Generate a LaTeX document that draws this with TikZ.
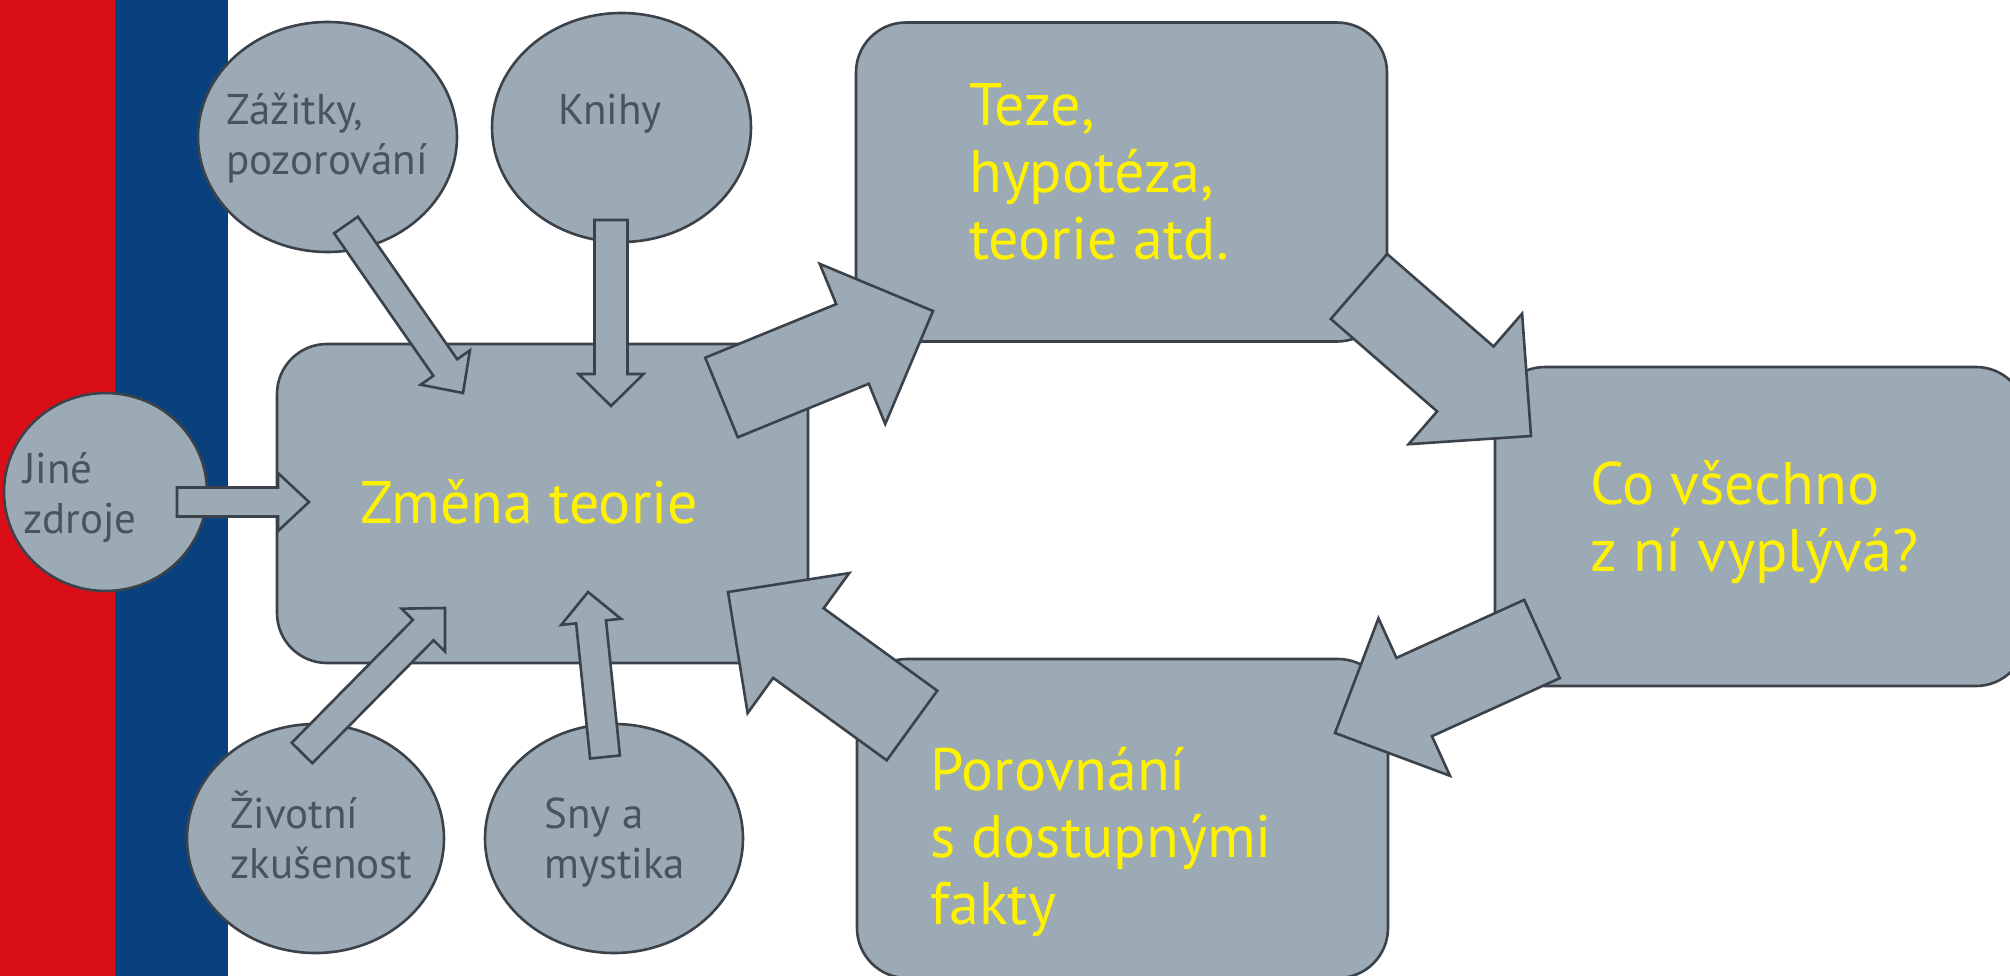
\documentclass[tikz,border=0pt]{standalone}
\usepackage{fontspec}
\setmainfont{PT Sans}
\usetikzlibrary{calc}
\usetikzlibrary{shapes.geometric}
\definecolor{flagred}{RGB}{218,14,22}
\definecolor{flagblue}{RGB}{9,64,126}
\definecolor{bubble}{RGB}{155,170,181}
\definecolor{rim}{RGB}{60,66,73}
\definecolor{ink}{RGB}{72,84,96}
% fat arrow: tail, tip, shaft, head width, head length
\newcommand{\blockarrow}[5]{%
\coordinate (hb) at ($(#2)!#5!(#1)$);
\draw[blockarr] ($(#1)!#3/2!90:(#2)$) -- ($(hb)!#3/2!-90:(#1)$) -- ($(hb)!#4/2!-90:(#1)$) -- (#2)
  -- ($(hb)!#4/2!90:(#1)$) -- ($(hb)!#3/2!90:(#1)$) -- ($(#1)!#3/2!-90:(#2)$) -- cycle;
}

\begin{document}
\begin{tikzpicture}[x=1pt,y=-1pt,
  blob/.style={ellipse,draw=rim,fill=bubble,line width=2.6pt,inner sep=0pt},
  slab/.style={rectangle,rounded corners=50pt,draw=rim,fill=bubble,line width=2.6pt,minimum width=531pt,minimum height=319pt},
  blobtext/.style={anchor=base west,align=left,inner sep=0pt,text=ink,font=\fontsize{43}{50}\selectfont},
  slabtext/.style={anchor=base west,align=left,inner sep=0pt,text=yellow,font=\fontsize{60}{67}\selectfont},
  blockarr/.style={draw=rim,fill=bubble,line width=2.6pt,line join=miter}]
\useasboundingbox (0,0) rectangle (2010,976);
\clip (0,0) rectangle (2010,976);
% stripes
\fill[flagred] (0,0) rectangle (115,976);
\fill[flagblue] (115,0) rectangle (228,976);
% sources
\node[blob,minimum width=259pt,minimum height=230pt] (zazitky) at (327.5,137) {};
\node[blob,minimum width=259pt,minimum height=229pt] (knihy) at (621.5,127.5) {};
\node[blob,minimum width=203pt,minimum height=198pt] (jine) at (105.5,492) {};
\node[blob,minimum width=257pt,minimum height=229pt] (zivotni) at (315.5,838.5) {};
\node[blob,minimum width=258pt,minimum height=229pt] (sny) at (614,838.5) {};
% base = last line
\node[blobtext] (zazitky-t) at (226,175) {Zážitky,\\pozorování};
\node[blobtext] (knihy-t) at (558,125) {Knihy};
\node[blobtext] (jine-t) at (23,533) {Jiné\\zdroje};
\node[blobtext] (zivotni-t) at (230,878) {Životní\\zkušenost};
\node[blobtext] (sny-t) at (544,878) {Sny a\\mystika};
% cycle
\node[slab] (zmena) at (542.5,503.5) {};
\node[slab] (teze) at (1121.5,182) {};
\node[slab] (co) at (1760.5,526.5) {};
\node[slab] (porovnani) at (1122.5,818.5) {};
\node[slabtext] (zmena-t) at (360,523) {Změna teorie};
\node[slabtext] (teze-t) at (969,260) {Teze,\\hypotéza,\\teorie atd.};
\node[slabtext] (co-t) at (1590,571) {Co všechno\\z ní vyplývá?};
\node[slabtext] (porovnani-t) at (930,924) {Porovnání\\s dostupnými\\fakty};
% arrow ends
\coordinate (zazitky-a) at (346,225);   \coordinate (zazitky-b) at (463,393);
\coordinate (knihy-a) at (611,220);     \coordinate (knihy-b) at (611,406);
\coordinate (jine-a) at (177,502);      \coordinate (jine-b) at (309,502);
\coordinate (zivotni-a) at (302,753);   \coordinate (zivotni-b) at (445,608);
\coordinate (sny-a) at (605,757);       \coordinate (sny-b) at (588,592);
\coordinate (zmena-a) at (721.5,397.5); \coordinate (teze-b) at (933,311);
\coordinate (teze-a) at (1359,286.5);   \coordinate (co-b) at (1531,436);
\coordinate (co-a) at (1542,639);       \coordinate (porovnani-b) at (1335,733);
\coordinate (porovnani-a) at (912,725.5); \coordinate (zmena-b) at (728,592);
\blockarrow{zazitky-a}{zazitky-b}{29pt}{60pt}{31pt}
\blockarrow{knihy-a}{knihy-b}{33pt}{65pt}{32pt}
\blockarrow{jine-a}{jine-b}{29pt}{58pt}{31pt}
\blockarrow{zivotni-a}{zivotni-b}{29pt}{61pt}{31pt}
\blockarrow{sny-a}{sny-b}{30pt}{60pt}{30pt}
\blockarrow{zmena-a}{teze-b}{86pt}{173pt}{87pt}
\blockarrow{teze-a}{co-b}{86pt}{173pt}{87pt}
\blockarrow{co-a}{porovnani-b}{86pt}{173pt}{87pt}
\blockarrow{porovnani-a}{zmena-b}{86pt}{173pt}{87pt}
\end{tikzpicture}
\end{document}
